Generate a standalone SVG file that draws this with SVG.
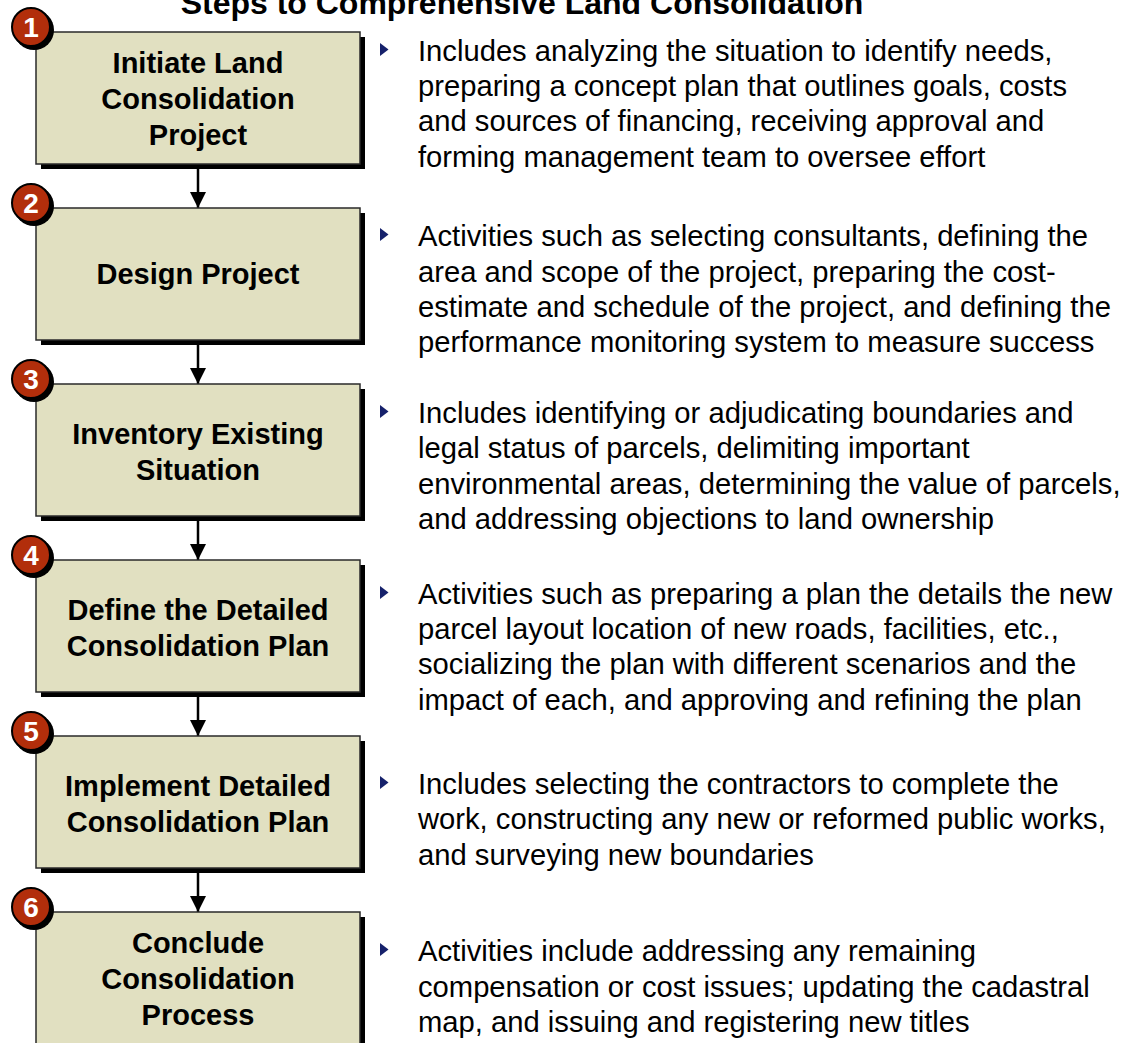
<svg xmlns="http://www.w3.org/2000/svg" width="1125" height="1043" viewBox="0 0 1125 1043">
<defs>
<style>
.title{font-family:"Liberation Sans",Arial,sans-serif;font-weight:bold;font-size:32px;fill:#000;text-anchor:middle}
.box{fill:#e1e0c1;stroke:#2a2a2a;stroke-width:1.5}
.shadow{fill:#000}
.btext{font-family:"Liberation Sans",Arial,sans-serif;font-weight:bold;font-size:29px;fill:#000;text-anchor:middle}
.num{font-family:"Liberation Sans",Arial,sans-serif;font-weight:bold;font-size:28px;fill:#fff;text-anchor:middle}
.badge{fill:#b22e0b;stroke:#000;stroke-width:2}
.desc{font-family:"Liberation Sans",Arial,sans-serif;font-size:29.2px;fill:#000}
.tri{fill:#16216b}
.conn{stroke:#000;stroke-width:2.5;fill:none}
</style>
<marker id="ah" markerWidth="16" markerHeight="16" viewBox="0 0 16 16" refX="16" refY="8" orient="auto" markerUnits="userSpaceOnUse">
<path d="M0,0 L16,8 L0,16 Z" fill="#000"/>
</marker>
<g id="tri-def"><path class="tri" d="M0,0 L8.5,6.5 L0,13 Z"/></g>
</defs>
<rect width="1125" height="1043" fill="#fff"/>
<text class="title" x="522" y="14">Steps to Comprehensive Land Consolidation</text>

<g id="connectors">
<line class="conn" x1="198" y1="169" x2="198" y2="208" marker-end="url(#ah)"/>
<line class="conn" x1="198" y1="345" x2="198" y2="384" marker-end="url(#ah)"/>
<line class="conn" x1="198" y1="521" x2="198" y2="560" marker-end="url(#ah)"/>
<line class="conn" x1="198" y1="697" x2="198" y2="736" marker-end="url(#ah)"/>
<line class="conn" x1="198" y1="873" x2="198" y2="912" marker-end="url(#ah)"/>
</g>

<g id="node1">
<rect class="shadow" x="41" y="37" width="324" height="132"/>
<rect class="box" x="36" y="32" width="324" height="132"/>
<circle class="shadow" cx="34" cy="30" r="20"/>
<circle class="badge" cx="31" cy="27" r="19"/>
<text class="num" x="31" y="37">1</text>
<text class="btext" x="198" y="73">Initiate Land</text>
<text class="btext" x="198" y="109">Consolidation</text>
<text class="btext" x="198" y="145">Project</text>
</g>
<g id="node2">
<rect class="shadow" x="41" y="213" width="324" height="132"/>
<rect class="box" x="36" y="208" width="324" height="132"/>
<circle class="shadow" cx="34" cy="206" r="20"/>
<circle class="badge" cx="31" cy="203" r="19"/>
<text class="num" x="31" y="213">2</text>
<text class="btext" x="198" y="284">Design Project</text>
</g>
<g id="node3">
<rect class="shadow" x="41" y="389" width="324" height="132"/>
<rect class="box" x="36" y="384" width="324" height="132"/>
<circle class="shadow" cx="34" cy="382" r="20"/>
<circle class="badge" cx="31" cy="379" r="19"/>
<text class="num" x="31" y="389">3</text>
<text class="btext" x="198" y="444">Inventory Existing</text>
<text class="btext" x="198" y="480">Situation</text>
</g>
<g id="node4">
<rect class="shadow" x="41" y="565" width="324" height="132"/>
<rect class="box" x="36" y="560" width="324" height="132"/>
<circle class="shadow" cx="34" cy="558" r="20"/>
<circle class="badge" cx="31" cy="555" r="19"/>
<text class="num" x="31" y="565">4</text>
<text class="btext" x="198" y="620">Define the Detailed</text>
<text class="btext" x="198" y="656">Consolidation Plan</text>
</g>
<g id="node5">
<rect class="shadow" x="41" y="741" width="324" height="132"/>
<rect class="box" x="36" y="736" width="324" height="132"/>
<circle class="shadow" cx="34" cy="734" r="20"/>
<circle class="badge" cx="31" cy="731" r="19"/>
<text class="num" x="31" y="741">5</text>
<text class="btext" x="198" y="796">Implement Detailed</text>
<text class="btext" x="198" y="832">Consolidation Plan</text>
</g>
<g id="node6">
<rect class="shadow" x="41" y="917" width="324" height="132"/>
<rect class="box" x="36" y="912" width="324" height="132"/>
<circle class="shadow" cx="34" cy="910" r="20"/>
<circle class="badge" cx="31" cy="907" r="19"/>
<text class="num" x="31" y="917">6</text>
<text class="btext" x="198" y="953">Conclude</text>
<text class="btext" x="198" y="989">Consolidation</text>
<text class="btext" x="198" y="1025">Process</text>
</g>

<g id="desc1">
<use href="#tri-def" x="380" y="43"/>
<text class="desc" x="418" y="61">Includes analyzing the situation to identify needs,</text>
<text class="desc" x="418" y="96">preparing a concept plan that outlines goals, costs</text>
<text class="desc" x="418" y="131">and sources of financing, receiving approval and</text>
<text class="desc" x="418" y="167">forming management team to oversee effort</text>
</g>
<g id="desc2">
<use href="#tri-def" x="380" y="228"/>
<text class="desc" x="418" y="246">Activities such as selecting consultants, defining the</text>
<text class="desc" x="418" y="282">area and scope of the project, preparing the cost-</text>
<text class="desc" x="418" y="317">estimate and schedule of the project, and defining the</text>
<text class="desc" x="418" y="352">performance monitoring system to measure success</text>
</g>
<g id="desc3">
<use href="#tri-def" x="380" y="405"/>
<text class="desc" x="418" y="423">Includes identifying or adjudicating boundaries and</text>
<text class="desc" x="418" y="458">legal status of parcels, delimiting important</text>
<text class="desc" x="418" y="494">environmental areas, determining the value of parcels,</text>
<text class="desc" x="418" y="529">and addressing objections to land ownership</text>
</g>
<g id="desc4">
<use href="#tri-def" x="380" y="586"/>
<text class="desc" x="418" y="604">Activities such as preparing a plan the details the new</text>
<text class="desc" x="418" y="639">parcel layout location of new roads, facilities, etc.,</text>
<text class="desc" x="418" y="674">socializing the plan with different scenarios and the</text>
<text class="desc" x="418" y="710">impact of each, and approving and refining the plan</text>
</g>
<g id="desc5">
<use href="#tri-def" x="380" y="776"/>
<text class="desc" x="418" y="794">Includes selecting the contractors to complete the</text>
<text class="desc" x="418" y="829">work, constructing any new or reformed public works,</text>
<text class="desc" x="418" y="865">and surveying new boundaries</text>
</g>
<g id="desc6">
<use href="#tri-def" x="380" y="943"/>
<text class="desc" x="418" y="961">Activities include addressing any remaining</text>
<text class="desc" x="418" y="997">compensation or cost issues; updating the cadastral</text>
<text class="desc" x="418" y="1032">map, and issuing and registering new titles</text>
</g>
</svg>
